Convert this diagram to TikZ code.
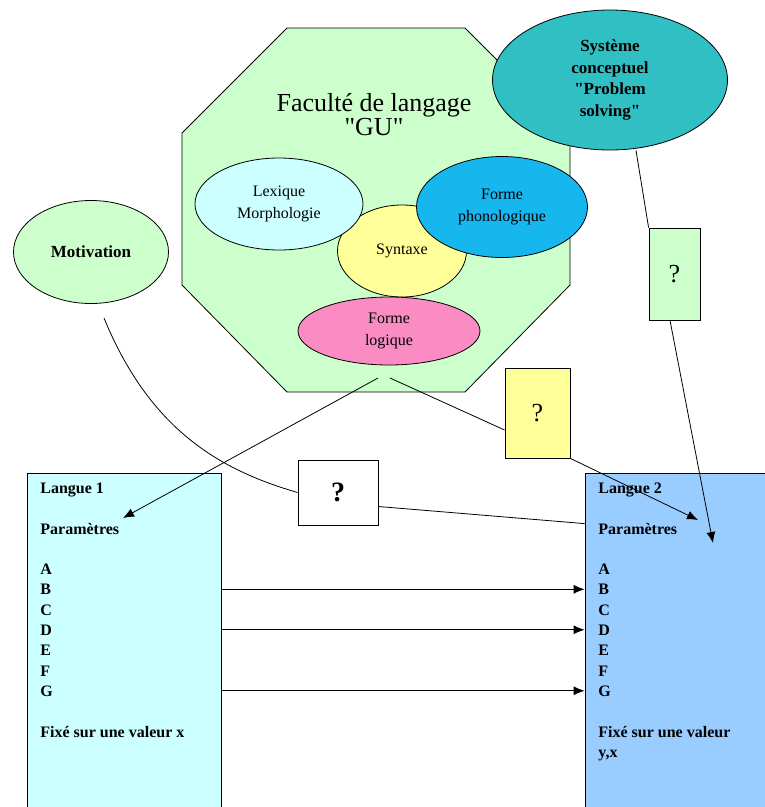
\documentclass[tikz,border=0pt]{standalone}
\usepackage{fontspec}
\setmainfont{Liberation Serif}
\usetikzlibrary{shapes.geometric,arrows.meta,positioning}

\definecolor{vertpale}{RGB}{204,255,204}
\definecolor{cyanpale}{RGB}{204,255,255}
\definecolor{jaunepale}{RGB}{255,255,153}
\definecolor{bleuphono}{RGB}{22,182,238}
\definecolor{rosepale}{RGB}{250,140,195}
\definecolor{turquoise}{RGB}{48,192,196}
\definecolor{bleupale}{RGB}{153,204,255}

\begin{document}
\begin{tikzpicture}[
                    x=1pt, y=-1pt,
                    line width=0.8pt,
                    >={Latex[length=11pt,width=9pt]},
                    bulle/.style={draw, ellipse, inner sep=0pt, align=center, font=\fontsize{16}{22}\selectfont},
                    qbox/.style={draw, rectangle, inner sep=0pt, font=\fontsize{26}{26}\selectfont},
                    langue/.style={draw, rectangle, inner sep=0pt},
                    param/.style={anchor=base west, inner sep=0pt, font=\bfseries\fontsize{16}{20}\selectfont}
                    ]

    \useasboundingbox (0,0) rectangle (765,807);

    % faculte de langage
    \draw[fill=vertpale] (287,28) -- (465,28) -- (570,133) -- (570,285) -- (465,392) -- (287,392) -- (182,285) -- (182,133) -- cycle;
    \node [align=center, font=\fontsize{26}{24}\selectfont] (faculte) at (374,115) {Faculté de langage\\\textquotedbl GU\textquotedbl};

    \node [bulle, fill=jaunepale, minimum width=129pt, minimum height=92pt] (syntaxe) at (402,251) {Syntaxe};
    \node [bulle, fill=cyanpale, minimum width=168pt, minimum height=92pt] (lexique) at (279,204) {Lexique\\Morphologie};
    \node [bulle, fill=bleuphono, minimum width=171pt, minimum height=101pt] (phono) at (502,207) {Forme\\phonologique};
    \node [bulle, fill=rosepale, minimum width=182pt, minimum height=68pt] (logique) at (389,331) {Forme\\logique};

    \node [bulle, fill=turquoise, minimum width=235pt, minimum height=140pt, font=\bfseries\fontsize{17}{21.7}\selectfont] (probleme) at (610,80) {Système\\conceptuel\\\textquotedbl Problem\\solving\textquotedbl};
    \node [bulle, fill=vertpale, minimum width=155pt, minimum height=103pt, font=\bfseries\fontsize{17}{20}\selectfont] (motivation) at (91,252) {Motivation};

    % boites ?
    \node [qbox, fill=vertpale, minimum width=51pt, minimum height=92pt] (gbox) at (674.5,274) {?};
    \node [qbox, fill=jaunepale, minimum width=65pt, minimum height=90pt] (ybox) at (537.5,413) {?};
    \node [qbox, fill=white, minimum width=80pt, minimum height=65pt, font=\bfseries\fontsize{28}{28}\selectfont] (wbox) at (338,492.5) {?};

    % langues
    \node [langue, fill=cyanpale, minimum width=194pt, minimum height=339pt] (langue1) at (124,642.5) {};
    \node [langue, fill=bleupale, minimum width=185pt, minimum height=339pt] (langue2) at (677.5,642.5) {};

    \node [param] (l1titre) at (40,493) {Langue 1};
    \node [param] (l1param) at (40,534) {Paramètres};
    \node [param] (l1A) at (40,574) {A};
    \node [param] (l1B) at (40,594.5) {B};
    \node [param] (l1C) at (40,615) {C};
    \node [param] (l1D) at (40,635) {D};
    \node [param] (l1E) at (40,655.5) {E};
    \node [param] (l1F) at (40,676) {F};
    \node [param] (l1G) at (40,696) {G};
    \node [param] (l1fixe) at (40,737) {Fixé sur une valeur x};

    \node [param] (l2titre) at (598,493) {Langue 2};
    \node [param] (l2param) at (598,534) {Paramètres};
    \node [param] (l2A) at (598,574) {A};
    \node [param] (l2B) at (598,594.5) {B};
    \node [param] (l2C) at (598,615) {C};
    \node [param] (l2D) at (598,635) {D};
    \node [param] (l2E) at (598,655.5) {E};
    \node [param] (l2F) at (598,676) {F};
    \node [param] (l2G) at (598,696) {G};
    \node [param] (l2fixe) at (598,737) {Fixé sur une valeur};
    \node [param] (l2yx) at (598,757) {y,x};

    % bouts libres
    \coordinate (logA) at (378,378);
    \coordinate (logB) at (390,378);
    \coordinate (motiv0) at (104,318);
    \coordinate (tip1) at (123,518);
    \coordinate (tip2) at (698,520);
    \coordinate (tip3) at (713,543);

    \draw[->] (logA) -- (tip1);
    \draw[-] (logB) -- ([yshift=-17pt]ybox.west);
    \draw[->] (ybox.south east) -- (tip2);
    \draw[-] ([xshift=26pt]probleme.south) -- (gbox.north west);
    \draw[->] ([xshift=-4.5pt]gbox.south) -- (tip3);
    \draw[-] (motiv0) .. controls (150,430) and (220,470) .. (wbox.west);
    \draw[-] ([yshift=-14pt]wbox.east) -- ([yshift=-51pt]langue2.north west);

    \draw[->] (l1B -| langue1.east) -- (l2B -| langue2.west);
    \draw[->] (l1D -| langue1.east) -- (l2D -| langue2.west);
    \draw[->] (l1G -| langue1.east) -- (l2G -| langue2.west);

\end{tikzpicture}
\end{document}
